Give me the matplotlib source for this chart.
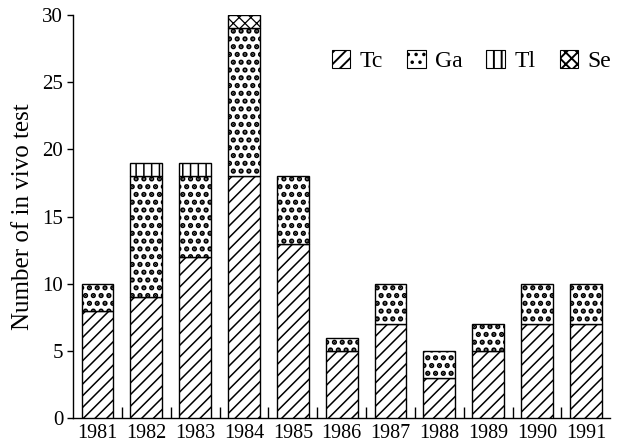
import numpy as np
import matplotlib
matplotlib.use('Agg')
import matplotlib.pyplot as plt
from matplotlib.patches import Patch

years = ['1981', '1982', '1983', '1984', '1985', '1986',
         '1987', '1988', '1989', '1990', '1991']
tc = [8, 9, 12, 18, 13, 5, 7, 3, 5, 7, 7]
ga = [2, 9, 6, 11, 5, 1, 3, 2, 2, 3, 3]
tl = [0, 1, 1, 0, 0, 0, 0, 0, 0, 0, 0]
se = [0, 0, 0, 1, 0, 0, 0, 0, 0, 0, 0]

# render at higher dpi so hatch tiles come out at the right spacing;
# every size below is scaled by S so the output stays 624x443
DPI = 140
S = 100.0 / DPI

# name, values, hatch, hatch line width
series = [('Tc', tc, '////', 1.1), ('Ga', ga, '...', 2.6),
          ('Tl', tl, '|||', 1.1), ('Se', se, 'xxxx', 0.9)]

plt.rcParams['font.family'] = ['Liberation Serif', 'DejaVu Serif']
plt.rcParams['hatch.color'] = 'black'

fig = plt.figure(figsize=(6.24 / 1.4, 4.43 / 1.4), dpi=DPI, facecolor='white')
ax = fig.add_axes([0.117, 0.056, 0.861, 0.91])

x = np.arange(len(years))
bottom = np.zeros(len(years))
handles = []
for name, vals, hatch, hlw in series:
    vals = np.array(vals, dtype=float)
    mask = vals > 0
    with plt.rc_context({'hatch.linewidth': hlw * S}):
        bars = ax.bar(x[mask], vals[mask], width=0.65, bottom=bottom[mask],
                      facecolor='white', edgecolor='black', linewidth=1.0 * S,
                      hatch=hatch, zorder=3)
        h = Patch(facecolor='white', edgecolor='black',
                  linewidth=0.8 * S, hatch=hatch, label=name)
    for b in list(bars) + [h]:
        if hasattr(b, 'set_hatch_linewidth'):
            b.set_hatch_linewidth(hlw * S)
    bottom += vals
    handles.append(h)

ax.set_xlim(-0.5, 10.5)
ax.set_ylim(0, 30)
ax.set_yticks(np.arange(0, 31, 5))
ax.set_xticks(x)
ax.set_xticklabels(years)
ax.set_xticks(np.arange(0.5, 10.0, 1.0), minor=True)
ax.tick_params(axis='x', which='major', length=0, labelsize=14.5 * S, pad=4 * S)
ax.tick_params(axis='x', which='minor', direction='in', length=8 * S, width=1.0 * S)
ax.tick_params(axis='y', which='major', direction='out', length=4 * S,
               width=1.0 * S, labelsize=15 * S, pad=3 * S)
ax.spines['top'].set_visible(False)
ax.spines['right'].set_visible(False)
ax.spines['left'].set_linewidth(1.0 * S)
ax.spines['bottom'].set_linewidth(1.0 * S)

ax.set_ylabel('Number of in vivo test', fontsize=18 * S, labelpad=6 * S)

ax.legend(handles=handles, loc='center right', bbox_to_anchor=(1.042, 0.885),
          ncol=4, frameon=False, fontsize=17 * S, handlelength=0.8,
          handleheight=0.75, handletextpad=0.4, columnspacing=1.0)

fig.savefig('out.png', dpi=DPI)
